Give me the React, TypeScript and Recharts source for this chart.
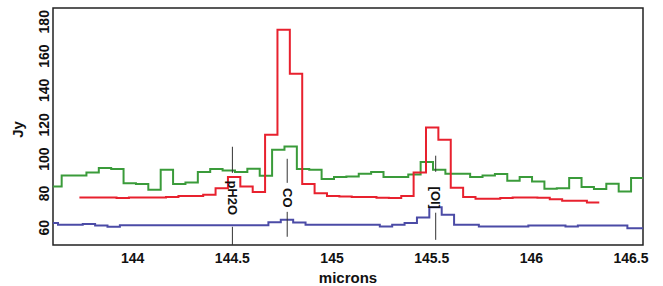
import { LineChart, Line, XAxis, YAxis, ReferenceLine, ReferenceDot, ReferenceArea } from "recharts";

// spectral bins (microns), all three spectra share the same bin width
const binWidth = 0.0621;
const xMin = 143.6;
const xMax = 146.56;

const greenStart = 143.6435;
const greenLead = 84.1;
const greenValues = [
  90.5, 90.5, 92.2, 94.8, 94.2, 86, 85.5, 82.2, 93.8, 85.5, 86.4, 92.5, 94.2, 93.4, 92.5, 94.4,
  90.3, 105.5, 107.4, 94.2, 93.8, 88.4, 89.6, 89.9, 91.5, 92.5, 89.6, 89.6, 91, 98.3, 93.8, 91.5,
  91.5, 89.6, 90.5, 91.3, 87.4, 89.6, 87, 82.7, 83.1, 89, 83.7, 82.6, 85.7, 81.2, 89,
];

const redStart = 143.7325;
const redValues = [
  77.7, 77.7, 77.7, 77.3, 77.7, 77.7, 77.7, 78, 78.5, 78.5, 79.2, 83.1, 89.6, 84.1, 80.8, 114.2,
  175.3, 149.7, 85.5, 80.2, 78.5, 78.3, 78, 78, 77.5, 77.3, 78.5, 92.2, 118.4, 111.3, 83.3, 77.9,
  77, 77, 77.3, 77.7, 77.7, 77.5, 76.7, 75.7, 75.7, 74.8,
];

const blueStart = 143.625;
const blueLead = 62.8;
const blueValues = [
  61.8, 61.8, 62.2, 61.4, 60.6, 61.5, 61.5, 61.5, 61.5, 61.5, 61.5, 61.5, 61.5, 61.5, 61.5, 61.5,
  61.5, 63.3, 64.7, 63.1, 61.8, 61.8, 61.8, 61.8, 61.8, 61.8, 60.8, 61.8, 62.8, 66, 72, 67.6,
  61.8, 61.8, 60.8, 60.8, 60.8, 60.8, 61.4, 61.4, 61.4, 60.8, 61.4, 61.4, 61.4, 61.4, 59.8, 59.8,
];

// line identifications
const lineNames = ["pH2O", "CO", "[OI]"];
const lineX = [144.5, 144.775, 145.52];
const lineTop = [[107.2, 92], [100.2, 86.2], [102, 92.6]];
const lineBottom = [[60.6, 50], [69.3, 54.8], [68.8, 53]];
const labelY = [77.5, 77.5, 77.5];

const xTicks = [144, 144.5, 145, 145.5, 146, 146.5];
const yTicks = [60, 80, 100, 120, 140, 160, 180];
const yMin = 50;
const yMax = 188;

function toSteps(start: number, values: number[], lead?: number) {
  const pts: { x: number; y: number }[] = [];
  if (lead !== undefined) pts.push({ x: xMin, y: lead });
  values.forEach((v, i) => pts.push({ x: start + i * binWidth, y: v }));
  pts.push({ x: start + values.length * binWidth, y: values[values.length - 1] });
  return pts;
}

const green = toSteps(greenStart, greenValues, greenLead);
const red = toSteps(redStart, redValues);
const blue = toSteps(blueStart, blueValues, blueLead);

const YTick = (props: any) => {
  const { x, y, payload } = props;
  const cx = x - 1;
  return (
    <text
      x={cx}
      y={y}
      transform={`rotate(-90, ${cx}, ${y})`}
      textAnchor="middle"
      dominantBaseline="central"
      fontSize={14}
      fontWeight="bold"
      fill="#111"
    >
      {payload.value}
    </text>
  );
};

const makeLabel = (text: string) => (props: any) => {
  const { cx, cy } = props;
  return (
    <text
      x={cx}
      y={cy}
      transform={`rotate(90, ${cx}, ${cy})`}
      textAnchor="middle"
      dominantBaseline="central"
      fontSize={13}
      fontWeight="bold"
      fill="#111"
    >
      {text}
    </text>
  );
};

export default function App() {
  return (
    <div
      style={{
        position: "absolute",
        left: 0,
        top: 0,
        background: "#fff",
        fontFamily: "'Liberation Sans', Arial, sans-serif",
      }}
    >
      <LineChart width={663} height={286} margin={{ top: 8, right: 20, left: 13, bottom: 0 }}>
        <XAxis
          type="number"
          dataKey="x"
          domain={[xMin, xMax]}
          allowDataOverflow
          ticks={xTicks}
          height={41}
          tickLine={false}
          axisLine={false}
          tick={{ fontSize: 14, fontWeight: "bold", fill: "#111" }}
          label={{
            content: ({ viewBox }: any) => (
              <text
                x={viewBox.x + viewBox.width / 2}
                y={viewBox.y + 32}
                textAnchor="middle"
                dominantBaseline="central"
                fontSize={15}
                fontWeight="bold"
                fill="#111"
              >
                microns
              </text>
            ),
          }}
        />
        <YAxis
          type="number"
          dataKey="y"
          domain={[yMin, yMax]}
          allowDataOverflow
          ticks={yTicks}
          width={40}
          tickLine={false}
          axisLine={false}
          tick={<YTick />}
          label={{
            content: ({ viewBox }: any) => {
              const lx = viewBox.x + 4;
              const ly = viewBox.y + viewBox.height / 2 + 3;
              return (
                <text
                  x={lx}
                  y={ly}
                  transform={`rotate(-90, ${lx}, ${ly})`}
                  textAnchor="middle"
                  dominantBaseline="central"
                  fontSize={15}
                  fontWeight="bold"
                  fill="#111"
                >
                  Jy
                </text>
              );
            },
          }}
        />
        <Line data={green} dataKey="y" type="stepAfter" stroke="#3a9b3a" strokeWidth={2} dot={false} activeDot={false} isAnimationActive={false} />
        <Line data={red} dataKey="y" type="stepAfter" stroke="#e8212e" strokeWidth={2} dot={false} activeDot={false} isAnimationActive={false} />
        <Line data={blue} dataKey="y" type="stepAfter" stroke="#4b4ba6" strokeWidth={2} dot={false} activeDot={false} isAnimationActive={false} />
        {lineNames.map((name, i) => (
          <ReferenceLine
            key={`t-${name}`}
            segment={[{ x: lineX[i], y: lineTop[i][0] }, { x: lineX[i], y: lineTop[i][1] }]}
            stroke="#333"
            strokeWidth={1}
          />
        ))}
        {lineNames.map((name, i) => (
          <ReferenceLine
            key={`b-${name}`}
            segment={[{ x: lineX[i], y: lineBottom[i][0] }, { x: lineX[i], y: lineBottom[i][1] }]}
            stroke="#333"
            strokeWidth={1}
          />
        ))}
        {lineNames.map((name, i) => (
          <ReferenceDot key={`l-${name}`} x={lineX[i]} y={labelY[i]} r={0} shape={makeLabel(name)} />
        ))}
        <ReferenceArea x1={xMin} x2={xMax} y1={yMin} y2={yMax} fill="none" stroke="#222" strokeWidth={1.5} />
      </LineChart>
    </div>
  );
}
